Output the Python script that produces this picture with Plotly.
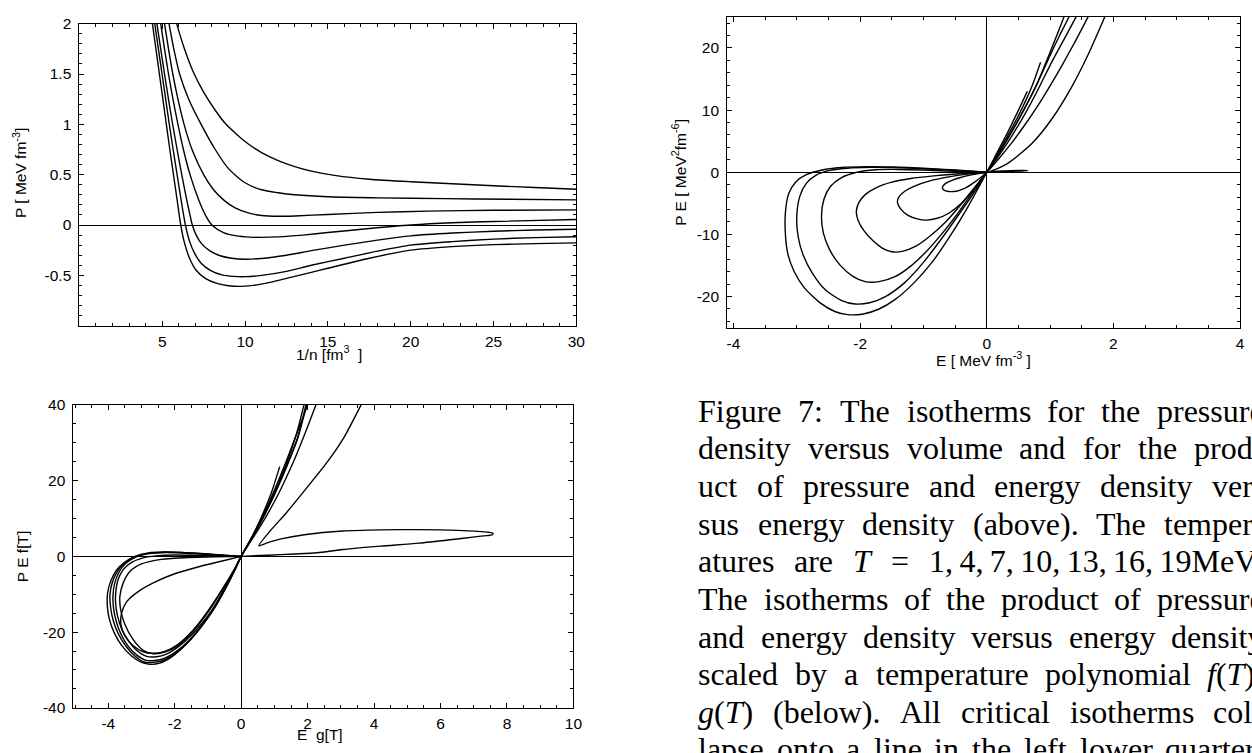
import re
import plotly.graph_objects as go

W, H = 1252, 753

# ---------------- Top-left: P vs 1/n (T = 19,16,13,10,7,4,1) ----------------
v19 = [5.87, 6.3, 6.85, 7.5, 8.2, 8.8, 9.5, 10.2, 11.0, 12.0, 13.0, 14.0, 15.5, 17.5, 20, 22.5, 25, 27.5, 30]
p19 = [2.0, 1.77, 1.53, 1.32, 1.14, 1.01, 0.9, 0.805, 0.72, 0.64, 0.58, 0.535, 0.49, 0.455, 0.43, 0.41, 0.39, 0.372, 0.355]
v16 = [5.41, 5.7, 6.05, 6.6, 7.35, 8.2, 9.0, 10, 11, 12, 13, 15, 18, 22, 26, 30]
p16 = [2.0, 1.75, 1.5, 1.25, 1.0, 0.75, 0.56, 0.42, 0.35, 0.32, 0.3, 0.28, 0.27, 0.262, 0.256, 0.25]
v13 = [5.14, 5.38, 5.64, 5.95, 6.32, 6.8, 7.5, 8.1, 8.7, 9.4, 10.2, 11, 12, 13, 15, 18, 21, 25, 30]
p13 = [2.0, 1.75, 1.5, 1.25, 1.0, 0.75, 0.5, 0.35, 0.25, 0.17, 0.12, 0.095, 0.087, 0.09, 0.105, 0.125, 0.138, 0.146, 0.15]
v10 = [4.91, 5.14, 5.38, 5.65, 5.95, 6.28, 6.68, 7.2, 7.6, 8.0, 8.7, 9.5, 10.3, 11, 12, 13.5, 15, 17.5, 20, 22.5, 25, 30]
p10 = [2.0, 1.75, 1.5, 1.25, 1.0, 0.75, 0.5, 0.25, 0.1, 0.0, -0.075, -0.108, -0.12, -0.123, -0.118, -0.1, -0.075, -0.035, 0.0, 0.022, 0.035, 0.055]
v07 = [4.68, 4.91, 5.14, 5.38, 5.63, 5.9, 6.18, 6.48, 6.65, 6.82, 7.05, 7.4, 7.9, 8.5, 9.2, 10, 11, 12.5, 14, 16, 18, 20, 22.5, 25, 27.5, 30]
p07 = [2.0, 1.75, 1.5, 1.25, 1.0, 0.75, 0.5, 0.25, 0.12, 0.0, -0.1, -0.19, -0.26, -0.305, -0.33, -0.34, -0.332, -0.3, -0.255, -0.2, -0.15, -0.108, -0.08, -0.062, -0.05, -0.042]
v04 = [4.55, 4.77, 4.99, 5.21, 5.43, 5.66, 5.9, 6.14, 6.4, 6.65, 6.95, 7.35, 7.9, 8.6, 9.3, 10, 11, 12.5, 14, 16, 18, 20, 22.5, 25, 27.5, 30]
p04 = [2.0, 1.75, 1.5, 1.25, 1.0, 0.75, 0.5, 0.25, 0.0, -0.16, -0.28, -0.38, -0.45, -0.495, -0.51, -0.513, -0.5, -0.46, -0.4, -0.33, -0.26, -0.2, -0.165, -0.14, -0.125, -0.116]
v01 = [4.41, 4.62, 4.83, 5.04, 5.25, 5.46, 5.68, 5.9, 6.12, 6.35, 6.65, 7.05, 7.6, 8.3, 9.0, 9.7, 10.5, 11.5, 12.5, 14, 15, 17.5, 20, 22.5, 25, 27.5, 30]
p01 = [2.0, 1.75, 1.5, 1.25, 1.0, 0.75, 0.5, 0.25, 0.0, -0.18, -0.33, -0.45, -0.53, -0.58, -0.603, -0.61, -0.6, -0.57, -0.53, -0.47, -0.43, -0.33, -0.25, -0.215, -0.195, -0.185, -0.177]

# ---------------- Top-right: P E vs E ----------------
e01 = [0, -0.5, -1.0, -1.5, -1.9, -2.3, -2.6, -2.85, -3.02, -3.13, -3.18, -3.18, -3.14, -3.04, -2.88, -2.62, -2.4, -2.2, -1.95, -1.7, -1.45, -1.15, -0.85, -0.55, -0.3, -0.12, 0, 0.15, 0.3, 0.45, 0.6, 0.72, 0.85]
q01 = [0, 0.35, 0.65, 0.85, 0.9, 0.75, 0.35, -0.4, -1.6, -3.5, -6.5, -10, -13.2, -16, -18.6, -21.1, -22.4, -22.9, -22.8, -22.0, -20.5, -17.8, -14.3, -9.8, -5.6, -2.3, 0, 2.6, 5.3, 8.1, 11.2, 14.0, 17.7]
e04 = [0, -0.5, -1.0, -1.5, -1.85, -2.2, -2.5, -2.7, -2.85, -2.95, -3.0, -2.98, -2.9, -2.75, -2.55, -2.3, -2.08, -1.85, -1.6, -1.3, -1.0, -0.7, -0.4, -0.15, 0, 0.15, 0.3, 0.45, 0.64]
q04 = [0, 0.3, 0.55, 0.75, 0.8, 0.65, 0.25, -0.5, -1.8, -3.8, -7, -10.3, -13.3, -16.3, -18.9, -20.6, -21.2, -21.0, -20.0, -17.8, -14.5, -10.5, -6.2, -2.5, 0, 2.9, 5.8, 8.9, 13.0]
e07 = [0, -0.5, -1.0, -1.4, -1.75, -2.05, -2.3, -2.47, -2.57, -2.61, -2.58, -2.48, -2.32, -2.12, -1.92, -1.7, -1.45, -1.2, -0.95, -0.7, -0.45, -0.2, 0, 0.2, 0.4, 0.6, 0.8, 1.0, 1.22, 1.27]
q07 = [0, 0.15, 0.35, 0.45, 0.4, 0.0, -0.9, -2.3, -4.3, -7.0, -9.8, -12.5, -14.9, -16.7, -17.6, -17.6, -16.8, -15.1, -12.7, -9.8, -6.5, -2.9, 0, 3.2, 6.6, 10.3, 14.4, 19.3, 25.0, 26.5]
e10 = [0, -0.4, -0.8, -1.2, -1.5, -1.75, -1.92, -2.02, -2.06, -2.03, -1.94, -1.8, -1.65, -1.5, -1.32, -1.12, -0.9, -0.65, -0.4, -0.18, 0, 0.2, 0.4, 0.6, 0.8, 1.0, 1.15, 1.3, 1.35]
q10 = [0, -0.2, -0.55, -1.0, -1.6, -2.5, -3.6, -4.9, -6.3, -7.8, -9.4, -11.0, -12.2, -12.8, -12.7, -11.9, -10.3, -8.0, -5.1, -2.3, 0, 3.2, 6.6, 10.3, 14.3, 18.8, 22.0, 25.0, 26.2]
e13 = [0, -0.3, -0.6, -0.9, -1.13, -1.3, -1.39, -1.41, -1.36, -1.25, -1.1, -0.95, -0.78, -0.6, -0.4, -0.2, 0, 0.2, 0.4, 0.6, 0.8, 1.0, 1.2, 1.41, 1.46]
q13 = [0, -0.3, -0.75, -1.4, -2.2, -3.1, -4.0, -4.9, -5.9, -6.9, -7.5, -7.7, -7.4, -6.6, -5.0, -2.7, 0, 2.8, 5.9, 9.3, 13.1, 17.2, 21.0, 25.0, 26.1]
e16 = [0, -0.2, -0.4, -0.55, -0.65, -0.7, -0.68, -0.6, -0.48, -0.35, -0.22, -0.1, 0, 0.2, 0.4, 0.6, 0.8, 1.0, 1.2, 1.4, 1.6, 1.65]
q16 = [0, -0.35, -0.8, -1.3, -1.8, -2.4, -2.85, -3.1, -3.05, -2.6, -1.8, -0.9, 0, 2.3, 4.8, 7.6, 10.6, 13.9, 17.4, 21.1, 25.0, 26.0]
e19 = [0, 0.3, 0.55, 0.65, 0.5, 0.25, 0.05, 0.15, 0.35, 0.72, 1.03, 1.34, 1.6, 1.865, 1.92]
q19 = [0, 0.1, 0.2, 0.26, 0.28, 0.2, 0.12, 0.5, 1.55, 4.7, 8.6, 13.7, 18.9, 25.0, 26.3]

# ---------------- Bottom-left: P E f[T] vs E g[T] ----------------
g01 = [0, -0.6, -1.2, -1.8, -2.3, -2.8, -3.2, -3.5, -3.75, -3.92, -4.02, -4.03, -3.97, -3.83, -3.6, -3.3, -3.0, -2.75, -2.45, -2.1, -1.7, -1.3, -0.9, -0.5, -0.2, 0, 0.3, 0.6, 0.9, 1.16]
f01 = [0, 0.35, 0.75, 1.05, 1.15, 0.9, 0.0, -1.5, -3.6, -6.4, -9.6, -13, -16.5, -20, -23.5, -26.3, -28.0, -28.5, -28.2, -26.6, -23.6, -19.6, -14.5, -8.5, -3.6, 0, 4.6, 10.2, 16.6, 23.7]
g04 = [0, -0.6, -1.2, -1.8, -2.3, -2.8, -3.2, -3.5, -3.72, -3.88, -3.95, -3.93, -3.85, -3.7, -3.48, -3.2, -2.92, -2.65, -2.35, -2.0, -1.6, -1.2, -0.8, -0.45, -0.18, 0, 0.3, 0.65, 1.0, 1.35, 1.65, 1.89, 1.93]
f04 = [0, 0.3, 0.7, 1.0, 1.1, 0.8, -0.1, -1.7, -3.9, -6.9, -10.2, -13.5, -17, -20.4, -23.6, -26.3, -27.9, -28.0, -27.5, -25.8, -22.7, -18.6, -13.6, -8.0, -3.3, 0, 4.6, 10.3, 16.8, 24.2, 31.9, 40, 41.5]
g07 = [0, -0.6, -1.2, -1.8, -2.3, -2.8, -3.2, -3.48, -3.68, -3.81, -3.86, -3.84, -3.76, -3.62, -3.42, -3.15, -2.88, -2.6, -2.3, -1.95, -1.55, -1.15, -0.75, -0.4, -0.16, 0, 0.3, 0.65, 1.0, 1.35, 1.7, 1.95, 1.99]
f07 = [0, 0.25, 0.6, 0.9, 1.0, 0.65, -0.3, -1.9, -4.2, -7.2, -10.5, -13.8, -17.2, -20.5, -23.5, -26.0, -27.4, -27.5, -26.9, -25.1, -22.0, -17.9, -12.8, -7.3, -3.0, 0, 4.5, 10.1, 16.4, 23.5, 31.4, 40, 41.5]
g10 = [0, -0.7, -1.4, -2.0, -2.5, -2.95, -3.3, -3.55, -3.7, -3.77, -3.78, -3.72, -3.6, -3.4, -3.15, -2.85, -2.55, -2.25, -1.9, -1.5, -1.1, -0.7, -0.38, -0.15, 0, 0.3, 0.65, 1.0, 1.35, 1.7, 1.97, 2.01]
f10 = [0, 0.1, 0.25, 0.35, 0.2, -0.4, -1.6, -3.5, -6.0, -9.0, -12.3, -15.8, -19.1, -22.2, -24.8, -26.4, -26.5, -25.8, -23.9, -20.8, -16.8, -12.0, -6.9, -2.8, 0, 4.5, 10.0, 16.3, 23.3, 31.1, 40, 41.5]
g13 = [0, -0.8, -1.6, -2.4, -3.0, -3.35, -3.55, -3.65, -3.63, -3.5, -3.25, -2.95, -2.65, -2.3, -1.9, -1.45, -1.0, -0.55, -0.22, 0, 0.3, 0.65, 1.0, 1.35, 1.7, 2.0, 2.04]
f13 = [0, -0.1, -0.3, -0.8, -2.0, -4.0, -7.0, -10.5, -14.0, -18.0, -22.0, -24.8, -25.7, -25.3, -23.5, -19.8, -14.8, -8.6, -3.7, 0, 4.8, 10.7, 17.5, 25.0, 33.0, 40, 41.2]
g16 = [0, -0.6, -1.3, -2.0, -2.6, -3.1, -3.45, -3.6, -3.62, -3.5, -3.25, -2.95, -2.65, -2.3, -1.9, -1.45, -1.0, -0.55, -0.22, 0, 0.35, 0.75, 1.15, 1.55, 1.9, 2.25, 2.3]
f16 = [0, -1.3, -2.8, -4.6, -6.8, -9.3, -12.0, -15.0, -18.0, -21.0, -23.6, -25.2, -25.6, -25.1, -23.2, -19.5, -14.4, -8.4, -3.6, 0, 4.8, 10.5, 17.0, 24.5, 32.0, 40, 41.2]
g19 = [0, 0.8, 1.6, 2.28, 3.06, 4.2, 5.36, 6.5, 7.3, 7.56, 7.58, 7.45, 6.5, 5.36, 4.2, 3.06, 1.9, 1.2, 0.76, 0.53, 0.9, 1.33, 1.9, 2.6, 3.1, 3.61, 3.7]
f19 = [0, 0.3, 0.62, 0.95, 1.8, 2.7, 3.5, 4.6, 5.4, 5.75, 6.1, 6.35, 6.85, 7.05, 7.0, 6.7, 5.7, 4.6, 3.5, 2.8, 7.0, 11.2, 17.3, 25.0, 31.5, 40, 41.5]

# tick labels
tl_x = [5, 10, 15, 20, 25, 30]
tl_y = [-0.5, 0, 0.5, 1, 1.5, 2]
tr_x = [-4, -2, 0, 2, 4]
tr_y = [-20, -10, 0, 10, 20]
bl_x = [-4, -2, 0, 2, 4, 6, 8, 10]
bl_y = [-40, -20, 0, 20, 40]

# caption, one list of words per printed (justified) line
caption = [
    ["Figure", "7:", "The", "isotherms", "for", "the", "pressure"],
    ["density", "versus", "volume", "and", "for", "the", "prod-"],
    ["uct", "of", "pressure", "and", "energy", "density", "ver-"],
    ["sus", "energy", "density", "(above).", "The", "temper-"],
    ["atures", "are", "<i>T</i>", "=", "1,\u20094,\u20097,\u200910,\u200913,\u200916,\u200919MeV."],
    ["The", "isotherms", "of", "the", "product", "of", "pressure"],
    ["and", "energy", "density", "versus", "energy", "density"],
    ["scaled", "by", "a", "temperature", "polynomial", "<i>f</i>(<i>T</i>),"],
    ["<i>g</i>(<i>T</i>)", "(below).", "All", "critical", "isotherms", "col-"],
    ["lapse", "onto", "a", "line", "in", "the", "left", "lower", "quarter."],
]

fig = go.Figure()

def add(x, y, ax):
    fig.add_trace(go.Scatter(
        x=x, y=y, mode="lines",
        line=dict(color="black", width=1.4, shape="spline", smoothing=0.7),
        xaxis="x" + ax, yaxis="y" + ax, showlegend=False, hoverinfo="skip"))

for xs, ys in [(v19, p19), (v16, p16), (v13, p13), (v10, p10), (v07, p07), (v04, p04), (v01, p01)]:
    add(xs, ys, "")
for xs, ys in [(e01, q01), (e04, q04), (e07, q07), (e10, q10), (e13, q13), (e16, q16), (e19, q19)]:
    add(xs, ys, "2")
for xs, ys in [(g01, f01), (g04, f04), (g07, f07), (g10, f10), (g13, f13), (g16, f16), (g19, f19)]:
    add(xs, ys, "3")

TF = dict(family="Liberation Sans, Arial, sans-serif", size=15.5, color="black")

def axis(domain, rng, tv, minor_dtick, anchor, zeroline, standoff):
    return dict(
        domain=domain, range=rng, anchor=anchor,
        showgrid=False, zeroline=zeroline, zerolinecolor="black", zerolinewidth=1,
        showline=True, linecolor="black", linewidth=1, mirror="allticks",
        ticks="inside", ticklen=5, tickwidth=1, tickcolor="black",
        tickmode="array", tickvals=tv, ticktext=["%g" % v for v in tv],
        tickfont=TF, ticklabelstandoff=standoff,
        minor=dict(ticks="inside", ticklen=3, tickwidth=1, tickcolor="black",
                   dtick=minor_dtick, tick0=0, showgrid=False),
        fixedrange=True)

def px_x(p):
    return p / W

def px_y(p):
    return 1 - p / H

fig.update_layout(
    width=W, height=H, margin=dict(l=0, r=0, t=0, b=0),
    paper_bgcolor="white", plot_bgcolor="white", showlegend=False,
    xaxis=axis([px_x(79), px_x(580)], [0, 30], tl_x, 1, "y", False, 2),
    yaxis=axis([px_y(324), px_y(15)], [-1, 2], tl_y, 0.1, "x", True, 4),
    xaxis2=axis([px_x(732), px_x(1249)], [-4.1, 4.0], tr_x, 0.5, "y2", True, 2),
    yaxis2=axis([px_y(326), px_y(8)], [-25, 25], tr_y, 2, "x2", True, 4),
    xaxis3=axis([px_x(73), px_x(577)], [-5.05, 10], bl_x, 0.5, "y3", True, 2),
    yaxis3=axis([px_y(715), px_y(405)], [-40, 40], bl_y, 5, "x3", True, 4),
)

AF = dict(family="Liberation Sans, Arial, sans-serif", size=15.5, color="black")
ann = []
def A(text, x, y, angle=0, font=AF, xanchor="center", yanchor="middle"):
    ann.append(dict(text=text, x=px_x(x), y=px_y(y), xref="paper", yref="paper",
                    showarrow=False, textangle=angle, font=font,
                    xanchor=xanchor, yanchor=yanchor))

A("P [ MeV fm<sup>-3</sup>]", 19, 168, -90)
A("1/n [fm<sup>3</sup>  ]", 331, 352)
A("P E [ MeV<sup>2</sup>fm<sup>-6</sup>]", 684, 167, -90)
A("E [ MeV fm<sup>-3</sup> ]", 990, 358)
A("P E f[T]", 22, 560, -90)
A("E  g[T]", 322, 742)

# Times-Roman advance widths (1/1000 em) used to justify the caption lines
ROMAN = {" ": 250, "(": 333, ")": 333, ",": 250, "-": 333, ".": 250, ":": 278, "=": 564,
         "\u2009": 200, "A": 722, "F": 556, "M": 889, "T": 611, "V": 722,
         "a": 444, "b": 500, "c": 444, "d": 500, "e": 444, "f": 333, "g": 500, "h": 500,
         "i": 278, "j": 278, "k": 500, "l": 278, "m": 778, "n": 500, "o": 500, "p": 500,
         "q": 500, "r": 333, "s": 389, "t": 278, "u": 500, "v": 500, "w": 722, "x": 500,
         "y": 500, "z": 444}
ITALIC = {"T": 556, "f": 278, "g": 500}

def word_width(word, size):
    total = 0
    for part in re.split(r"(<i>.*?</i>)", word):
        if part.startswith("<i>"):
            total += sum(ITALIC.get(c, 500) for c in part[3:-4])
        else:
            total += sum(ROMAN.get(c, 500) if not c.isdigit() else 500 for c in part)
    return total * size / 1000.0

CS = 32
CF = dict(family="Liberation Serif, Times New Roman, serif", size=CS, color="black")
COL_L, COL_R = 701, 1270
for i, words in enumerate(caption):
    widths = [word_width(w, CS) for w in words]
    gap = (COL_R - COL_L - sum(widths)) / (len(words) - 1)
    x = COL_L
    yline = 411 + 38.5 * i
    for w, wd in zip(words, widths):
        A(w, x, yline, 0, CF, "left", "middle")
        x += wd + gap

fig.update_layout(annotations=ann)
fig.write_html("out.html")
